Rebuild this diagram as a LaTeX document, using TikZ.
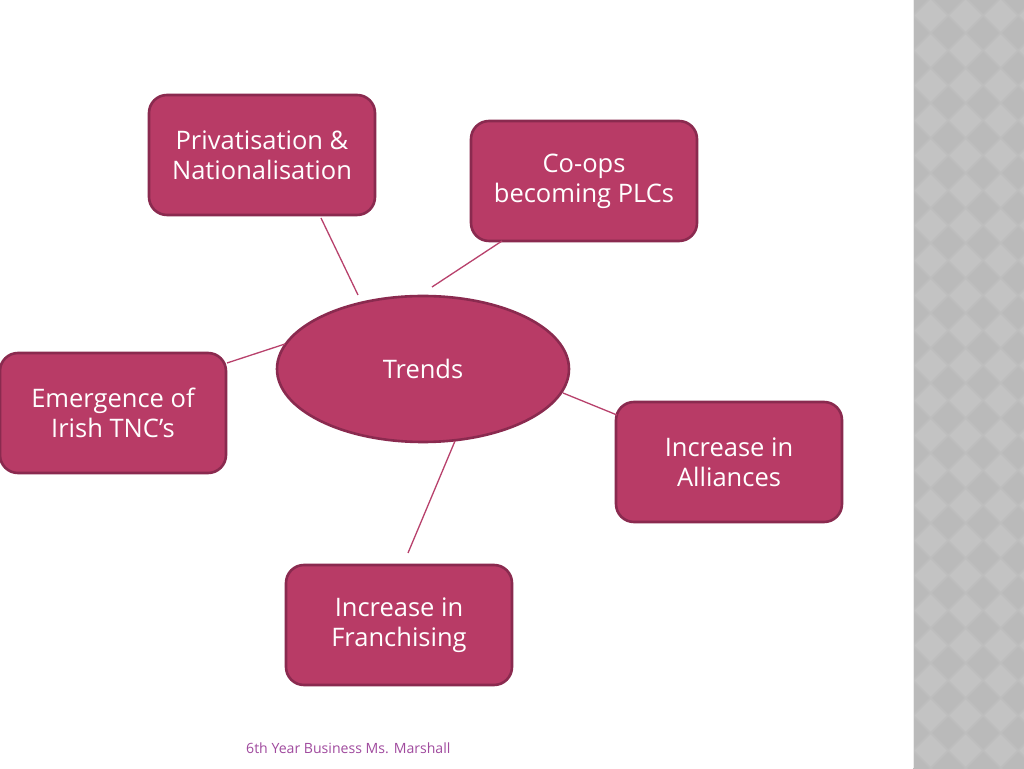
\documentclass[tikz,border=0pt]{standalone}
\usepackage{fontspec}
\setmainfont{Open Sans}
\usetikzlibrary{shapes.geometric}
\definecolor{boxfill}{HTML}{B83B66}
\definecolor{boxedge}{HTML}{8A2A4F}
\definecolor{linecol}{HTML}{B8416C}
\definecolor{foot}{HTML}{A04A9E}
\definecolor{stripbg}{HTML}{BEBEBE}
\definecolor{stripdk}{HTML}{BABABA}
\definecolor{striplt}{HTML}{C3C3C3}
\tikzset{
  topic/.style={draw=boxedge, line width=2.6pt, fill=boxfill, rounded corners=18pt,
    minimum width=226pt, minimum height=120pt, text=white, align=center,
    font=\fontsize{25.5}{30}\selectfont, inner sep=0pt},
  hub/.style={ellipse, draw=boxedge, line width=2.6pt, fill=boxfill,
    minimum width=292pt, minimum height=146pt, text=white,
    font=\fontsize{25.5}{30}\selectfont, inner sep=0pt},
  conn/.style={draw=linecol, line width=1.3pt},
  footer/.style={text=foot, font=\fontsize{14.1}{17}\selectfont, inner sep=0pt}
}
\begin{document}
\begin{tikzpicture}[x=1pt,y=1pt]
\useasboundingbox (0,0) rectangle (1024,768);
\fill[white] (0,0) rectangle (1024,768);
% patterned strip
\begin{scope}
\clip (913,0) rectangle (1024,768);
\fill[stripbg] (900,-10) rectangle (1040,780);
\foreach \i in {0,...,4} {
  \foreach \j in {0,...,23} {
    \fill[stripdk] ({913+35*\i},{35*\j}) +(0,16) -- +(16,0) -- +(0,-16) -- +(-16,0) -- cycle;
    \fill[striplt] ({930.5+35*\i},{17.5+35*\j}) +(0,16) -- +(16,0) -- +(0,-16) -- +(-16,0) -- cycle;
  }
}
\end{scope}
\draw[white!85!gray, line width=1.5pt] (913.5,0) -- (913.5,768);

% nodes
\node[hub] (trends) at (423,399) {Trends};
\node[topic] (priv) at (262,613) {Privatisation \&\\Nationalisation};
\node[topic] (coops) at (584,587) {Co-ops\\becoming PLCs};
\node[topic] (irish) at (113,355) {Emergence of\\Irish TNC’s};
\node[topic] (alli) at (729,306) {Increase in\\Alliances};
\node[topic] (fran) at (399,143) {Increase in\\Franchising};

% connector end points
\coordinate (p1) at (321,550);
\coordinate (p2) at (358,473);
\coordinate (c1) at (502,527);
\coordinate (c2) at (432,481);
\coordinate (e1) at (227,405);
\coordinate (e2) at (285,424);
\coordinate (a1) at (563,375);
\coordinate (a2) at (617,353);
\coordinate (f1) at (455,327);
\coordinate (f2) at (408,215);
\draw[conn] (p1) -- (p2);
\draw[conn] (c1) -- (c2);
\draw[conn] (e1) -- (e2);
\draw[conn] (a1) -- (a2);
\draw[conn] (f1) -- (f2);

\node[footer, anchor=west] (foot) at (246,20) {6th Year Business Ms. Marshall};
\end{tikzpicture}
\end{document}
